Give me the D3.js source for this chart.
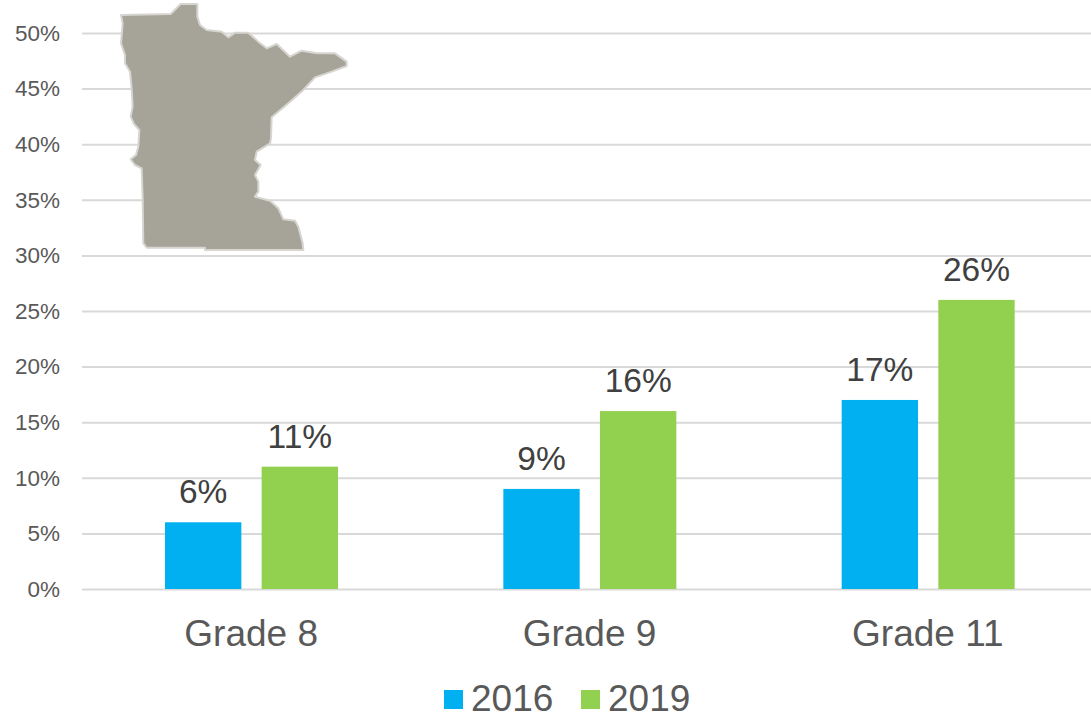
<!DOCTYPE html>
<html>
<head>
<meta charset="utf-8">
<script src="https://cdn.jsdelivr.net/npm/d3@7"></script>
<style>
html,body{margin:0;padding:0;background:#fff;overflow:hidden}
svg{display:block}
text{font-family:"Liberation Sans",Arial,sans-serif}
</style>
</head>
<body>
<svg id="chart" width="1091" height="714"></svg>
<script>
const categories = ["Grade 8", "Grade 9", "Grade 11"];
const years = ["2016", "2019"];
const values2016 = [6, 9, 17];
const values2019 = [11, 16, 26];
const yTicks = [0, 5, 10, 15, 20, 25, 30, 35, 40, 45, 50];
const stateOutline = [[33,45],[182,42],[212,12],[262,12],[262,50],[270,75],[290,90],[335,95],[355,112],[375,98],[415,98],[445,125],[470,145],[500,132],[540,170],[575,152],[620,160],[675,160],[710,185],[710,198],[665,215],[615,232],[580,270],[535,310],[485,352],[483,415],[480,430],[440,455],[435,480],[452,495],[435,525],[445,545],[445,575],[435,590],[480,602],[505,625],[520,658],[555,662],[565,680],[578,730],[580,750],[285,750],[285,743],[110,743],[100,730],[98,595],[95,505],[75,495],[62,478],[78,465],[85,440],[88,390],[72,372],[62,350],[68,320],[65,265],[60,215],[45,190],[45,165],[33,130],[38,70]];

const colors = d3.scaleOrdinal().domain(years).range(["#00B0F0", "#92D050"]);
const svg = d3.select("#chart");

const y = d3.scaleLinear().domain([0, 50]).range([589, 33]);
const x0 = d3.scaleBand().domain(categories).range([82, 1097]);
const x1 = d3.scaleBand().domain(years).range([83, 256]).paddingInner(0.21);

// gridlines and tick labels
const yAxis = svg.append("g")
  .attr("transform", "translate(82,0)")
  .call(d3.axisLeft(y).tickValues(yTicks).tickFormat(d => d + "%").tickSize(-1016).tickPadding(22));
yAxis.select(".domain").remove();
yAxis.selectAll("line").attr("stroke", "#D9D9D9").attr("stroke-width", 2);
yAxis.selectAll("text").attr("fill", "#595959").style("font-size", "22.5px").style("font-family", '"Liberation Sans"');

// category labels
const xAxis = svg.append("g")
  .attr("transform", "translate(0,589)")
  .call(d3.axisBottom(x0).tickSize(0).tickPadding(31));
xAxis.select(".domain").remove();
xAxis.selectAll("text").attr("fill", "#595959").style("font-size", "37px").style("font-family", '"Liberation Sans"');

// state silhouette
const mapX = d3.scaleLinear().domain([0, 750]).range([110, 360]);
const mapY = d3.scaleLinear().domain([0, 750]).range([0, 250]);
svg.append("path")
  .attr("d", d3.line().x(d => mapX(d[0])).y(d => mapY(d[1])).curve(d3.curveLinearClosed)(stateOutline))
  .attr("fill", "#A6A398")
  .attr("stroke", "#D6D5D0")
  .attr("stroke-width", 2)
  .attr("stroke-linejoin", "round");

// bars
const series = [values2016, values2019];
const groups = svg.selectAll("g.series").data(years).join("g").attr("class", "series");
groups.each(function (yr, i) {
  const g = d3.select(this);
  const rows = categories.map((c, k) => ({ c, v: series[i][k] }));
  g.selectAll("rect").data(rows).join("rect")
    .attr("x", d => x0(d.c) + x1(yr))
    .attr("width", x1.bandwidth())
    .attr("y", d => y(d.v))
    .attr("height", d => y(0) - y(d.v))
    .attr("fill", colors(yr));
  g.selectAll("text").data(rows).join("text")
    .attr("x", d => x0(d.c) + x1(yr) + x1.bandwidth() / 2)
    .attr("y", d => y(d.v) - 19)
    .attr("text-anchor", "middle")
    .attr("fill", "#404040")
    .style("font-size", "33.5px")
    .text(d => d.v + "%");
});

// legend
const legendItems = [{ yr: years[0], sx: 444, tx: 471 }, { yr: years[1], sx: 581, tx: 608 }];
const legend = svg.append("g");
legend.selectAll("rect").data(legendItems).join("rect")
  .attr("x", d => d.sx).attr("y", 690).attr("width", 19).attr("height", 19)
  .attr("fill", d => colors(d.yr));
legend.selectAll("text").data(legendItems).join("text")
  .attr("x", d => d.tx).attr("y", 711)
  .attr("fill", "#595959")
  .style("font-size", "37px")
  .text(d => d.yr);
</script>
</body>
</html>
